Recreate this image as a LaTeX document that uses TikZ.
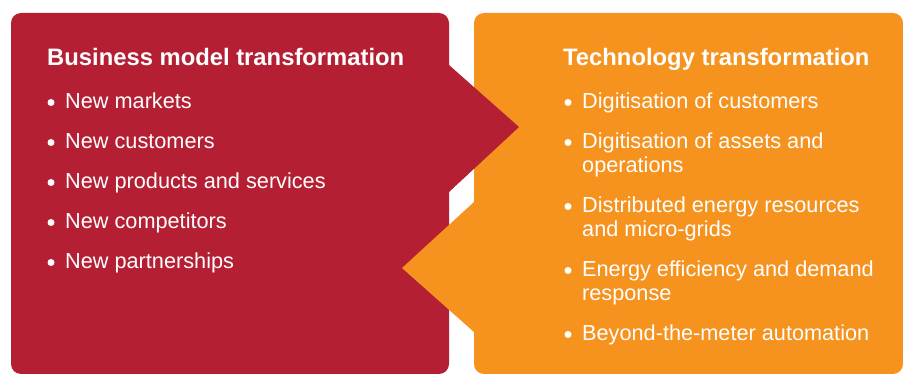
\documentclass[tikz,border=0pt]{standalone}
\usepackage{fontspec}
\setmainfont{Liberation Sans}
\usetikzlibrary{positioning}
\definecolor{bizred}{HTML}{B41F34}
\definecolor{techorange}{HTML}{F6921E}
\newcommand{\itemlines}[1]{\begin{tabular}[t]{@{}l@{}}#1\end{tabular}}

\begin{document}
\begin{tikzpicture}[x=1pt, y=-1pt,
		head/.style={anchor=base west, text=white, inner sep=0pt, font=\fontsize{23.8}{26}\selectfont\bfseries},
		entry/.style={anchor=base west, text=white, inner sep=0pt, font=\fontsize{21.7}{24}\selectfont},
		dot/.style={circle, fill=white, inner sep=0pt, minimum size=7pt}]
		\useasboundingbox (0, 0) rectangle (903, 374);
		% panels, then the two arrow points over the other panel
		\fill[bizred, rounded corners=10pt] (11, 13) rectangle (449, 374);
		\fill[techorange, rounded corners=10pt] (474, 13) rectangle (903, 374);
		\fill[bizred] (449, 65) -- (519, 127) -- (449, 192) -- cycle;
		\fill[techorange] (474, 202) -- (402, 268) -- (474, 332) -- cycle;

		\node[head] (bizhead) at (47, 66) {Business model transformation};
		\node[head] (techhead) at (563, 66) {Technology transformation};

		\foreach \y/\txt [count=\i] in {109/New markets, 149/New customers, 189/New products and services, 229/New competitors, 269/New partnerships} {
			\node[entry] (biz\i) at (65, \y) {\txt};
			\node[dot] (bizdot\i) at ([xshift=-14pt, yshift=6.5pt]biz\i.base west) {};
		}
		\foreach \y/\txt [count=\i] in {109/Digitisation of customers, 149/Digitisation of assets and\\operations, 213/Distributed energy resources\\and micro-grids, 277/Energy efficiency and demand\\response, 341/Beyond-the-meter automation} {
			\node[entry] (tech\i) at (582, \y) {\itemlines{\txt}};
			\node[dot] (techdot\i) at ([xshift=-14pt, yshift=6.5pt]tech\i.base west) {};
		}
	\end{tikzpicture}
\end{document}
